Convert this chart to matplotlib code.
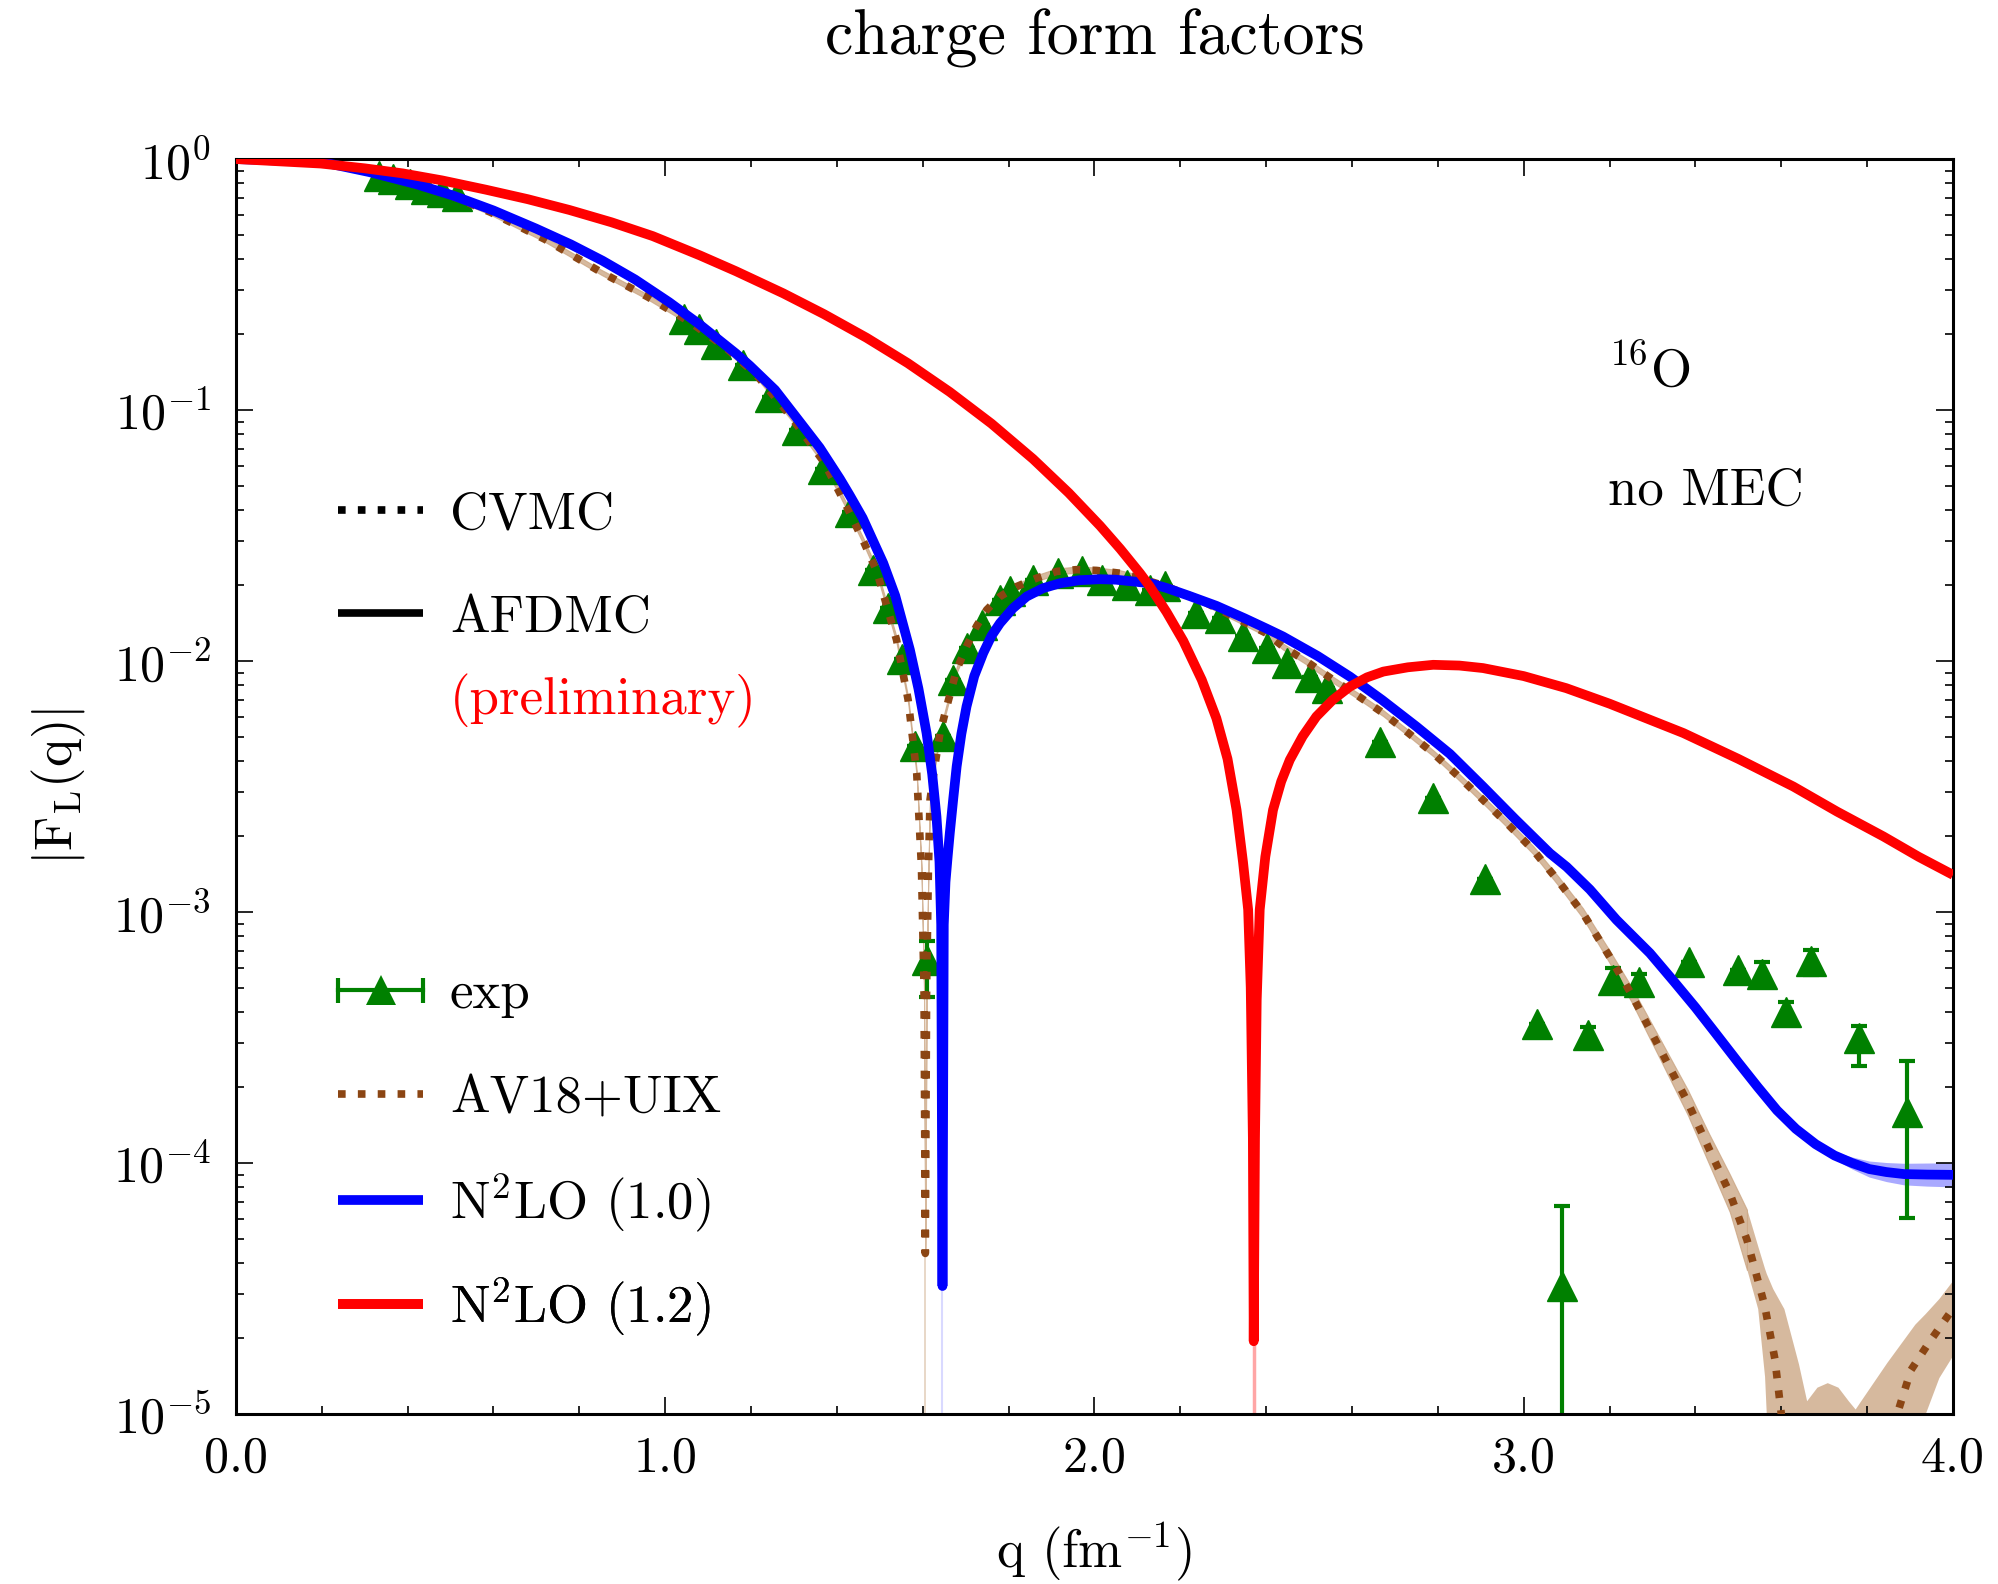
import numpy as np
import matplotlib
matplotlib.use('Agg')
import matplotlib.pyplot as plt
from matplotlib.lines import Line2D
from matplotlib.legend_handler import HandlerLine2D, HandlerTuple
from matplotlib.ticker import LogLocator, MultipleLocator, FormatStrFormatter, NullFormatter

plt.rcParams['font.family'] = 'serif'
plt.rcParams['font.serif'] = ['cmr10']
plt.rcParams['mathtext.fontset'] = 'cm'
plt.rcParams['axes.unicode_minus'] = False
plt.rcParams['axes.formatter.use_mathtext'] = True

# ---- values (log10 |F_L|) ----
# AV18+UIX (CVMC)
cvmc_q = [0.0, 0.2, 0.35, 0.5, 0.593, 0.72, 0.852, 0.96, 1.059, 1.14, 1.214, 1.29, 1.37, 1.423,
          1.463, 1.493, 1.525, 1.539, 1.566, 1.586, 1.597, 1.603, 1.606, 1.609, 1.613, 1.617,
          1.628, 1.640, 1.656, 1.679, 1.702, 1.725, 1.749, 1.78, 1.819, 1.865, 1.912, 1.958,
          2.005, 2.059, 2.106, 2.168, 2.246, 2.323, 2.40, 2.439, 2.497, 2.556, 2.615, 2.673,
          2.73, 2.789, 2.845, 2.905, 2.963, 3.022, 3.08, 3.138, 3.2, 3.252, 3.317, 3.382,
          3.431, 3.48, 3.52, 3.561, 3.585, 3.60, 3.615, 3.86, 3.87, 3.902, 3.943, 4.0]
cvmc_log = [0.0, -0.013, -0.065, -0.145, -0.212, -0.32, -0.452, -0.55, -0.651, -0.75, -0.863,
            -1.02, -1.208, -1.385, -1.527, -1.643, -1.833, -1.916, -2.155, -2.447, -2.82, -3.3,
            -4.36, -3.3, -2.85, -2.553, -2.42, -2.288, -2.181, -2.035, -1.942, -1.862, -1.796,
            -1.743, -1.703, -1.67, -1.643, -1.636, -1.639, -1.65, -1.67, -1.703, -1.756, -1.823,
            -1.889, -1.942, -2.005, -2.075, -2.14, -2.208, -2.285, -2.367, -2.455, -2.553,
            -2.65, -2.753, -2.875, -3.005, -3.178, -3.331, -3.544, -3.758, -3.941, -4.12,
            -4.306, -4.566, -4.78, -5.0, -5.6, -5.6, -5.0, -4.825, -4.718, -4.58]
# half width of the CVMC band (decades), used up to q = 3.52
cvmc_hw = [0.0, 0.01, 0.01, 0.01, 0.01, 0.01, 0.01, 0.01, 0.01, 0.012, 0.012, 0.012, 0.012,
           0.012, 0.012, 0.012, 0.012, 0.012, 0.012, 0.012, 0.012, 0.012, 0.012, 0.012, 0.012,
           0.012, 0.012, 0.012, 0.012, 0.012, 0.012, 0.012, 0.012, 0.012, 0.012, 0.012, 0.012,
           0.012, 0.012, 0.012, 0.012, 0.012, 0.012, 0.012, 0.012, 0.012, 0.012, 0.012, 0.012,
           0.012, 0.012, 0.012, 0.013, 0.014, 0.015, 0.016, 0.018, 0.02, 0.025, 0.03, 0.04,
           0.05, 0.06, 0.075, 0.12, 0, 0, 0, 0, 0, 0, 0, 0, 0]
# CVMC band beyond q = 3.52
cvmc_tail_q = [3.52, 3.545, 3.561, 3.565, 3.58, 3.606, 3.64, 3.659, 3.683, 3.707, 3.732, 3.756,
               3.772, 3.785, 3.846, 3.911, 3.935, 3.967, 4.0]
cvmc_tail_hi = [-4.186, -4.33, -4.42, -4.44, -4.50, -4.58, -4.80, -4.947, -4.893, -4.875,
                -4.893, -4.947, -4.98, -4.947, -4.794, -4.642, -4.60, -4.54, -4.466]
cvmc_tail_lo = [-4.426, -4.58, -4.85, -5.0, -6.0, -6.0, -6.0, -6.0, -6.0, -6.0, -6.0, -6.0,
                -6.0, -6.0, -6.0, -6.0, -5.0, -4.855, -4.764]

# N2LO (1.0) AFDMC
n2lo10_q = [0.0, 0.2, 0.311, 0.42, 0.505, 0.6, 0.699, 0.78, 0.854, 0.93, 1.009, 1.081, 1.165,
            1.197, 1.256, 1.314, 1.36, 1.407, 1.43, 1.46, 1.508, 1.536, 1.57, 1.59, 1.609, 1.622,
            1.632, 1.639, 1.643, 1.646, 1.649, 1.653, 1.658, 1.663, 1.671, 1.679, 1.69, 1.702,
            1.72, 1.741, 1.76, 1.78, 1.81, 1.842, 1.88, 1.92, 1.965, 2.013, 2.05, 2.09, 2.129,
            2.168, 2.22, 2.284, 2.35, 2.40, 2.439, 2.52, 2.595, 2.67, 2.75, 2.828, 2.905, 2.98,
            3.061, 3.10, 3.154, 3.216, 3.294, 3.35, 3.40, 3.447, 3.50, 3.545, 3.59, 3.634,
            3.68, 3.724, 3.765, 3.805, 3.845, 3.886, 3.94, 4.0]
n2lo10_log = [0.0, -0.012, -0.052, -0.10, -0.145, -0.205, -0.277, -0.34, -0.405, -0.48, -0.57,
              -0.66, -0.775, -0.823, -0.92, -1.048, -1.15, -1.274, -1.34, -1.43, -1.61, -1.74,
              -1.955, -2.11, -2.288, -2.45, -2.62, -2.80, -3.05, -4.49, -3.05, -2.88, -2.78,
              -2.686, -2.55, -2.42, -2.29, -2.181, -2.06, -1.968, -1.90, -1.849, -1.79, -1.743,
              -1.71, -1.69, -1.678, -1.674, -1.676, -1.683, -1.69, -1.709, -1.74, -1.78, -1.83,
              -1.87, -1.902, -1.98, -2.062, -2.155, -2.261, -2.37, -2.50, -2.63, -2.766, -2.82,
              -2.91, -3.031, -3.164, -3.277, -3.38, -3.483, -3.60, -3.697, -3.79, -3.864,
              -3.925, -3.97, -4.0, -4.024, -4.036, -4.044, -4.046, -4.047]
n2lo10_hw = [0.0] * 76 + [0.008, 0.015, 0.024, 0.032, 0.038, 0.043, 0.046, 0.048]

# N2LO (1.2) AFDMC
n2lo12_q = [0.0, 0.198, 0.3, 0.388, 0.48, 0.582, 0.68, 0.777, 0.875, 0.971, 1.081, 1.165, 1.275,
            1.37, 1.469, 1.565, 1.663, 1.76, 1.857, 1.94, 2.013, 2.06, 2.106, 2.129, 2.168,
            2.207, 2.25, 2.284, 2.31, 2.331, 2.346, 2.358, 2.364, 2.369, 2.371, 2.374, 2.378,
            2.385, 2.398, 2.416, 2.435, 2.455, 2.485, 2.517, 2.555, 2.595, 2.635, 2.673, 2.73,
            2.789, 2.85, 2.905, 3.0, 3.099, 3.2, 3.294, 3.372, 3.5, 3.628, 3.73, 3.838, 3.92,
            4.0]
n2lo12_log = [0.0, -0.018, -0.037, -0.057, -0.085, -0.122, -0.16, -0.203, -0.252, -0.307,
              -0.384, -0.447, -0.535, -0.618, -0.712, -0.813, -0.928, -1.054, -1.195, -1.33,
              -1.461, -1.553, -1.65, -1.703, -1.805, -1.92, -2.075, -2.228, -2.39, -2.593, -2.80,
              -2.99, -3.3, -3.9, -4.71, -3.9, -3.35, -2.99, -2.78, -2.593, -2.48, -2.394, -2.30,
              -2.221, -2.155, -2.102, -2.065, -2.042, -2.025, -2.015, -2.018, -2.028, -2.06,
              -2.108, -2.17, -2.234, -2.287, -2.39, -2.5, -2.6, -2.699, -2.78, -2.852]

# experiment
exp_q = [0.334, 0.367, 0.406, 0.442, 0.479, 0.515, 1.044, 1.079, 1.118, 1.182, 1.244, 1.306,
         1.368, 1.431, 1.485, 1.52, 1.551, 1.582, 1.61, 1.648, 1.671, 1.702, 1.737, 1.78, 1.803,
         1.857, 1.916, 1.97, 2.017, 2.075, 2.129, 2.164, 2.237, 2.292, 2.347, 2.401, 2.448,
         2.502, 2.541, 2.665, 2.788, 2.91, 3.031, 3.089, 3.149, 3.207, 3.268, 3.385, 3.498,
         3.556, 3.611, 3.669, 3.782, 3.892]
exp_log = [-0.066, -0.080, -0.100, -0.119, -0.133, -0.146, -0.636, -0.676, -0.736, -0.822,
           -0.948, -1.081, -1.234, -1.407, -1.636, -1.79, -1.99, -2.34, -3.19, -2.30, -2.075,
           -1.949, -1.855, -1.756, -1.72, -1.677, -1.65, -1.643, -1.677, -1.696, -1.716,
           -1.703, -1.809, -1.829, -1.902, -1.949, -2.008, -2.062, -2.108, -2.321, -2.547,
           -2.869, -3.445, -4.49, -3.49, -3.27, -3.277, -3.20, -3.232, -3.247, -3.40, -3.194,
           -3.50, -3.796]
exp_err_dn = [0.0] * 18 + [0.15] + [0.0] * 24 + [1.0, 0.03, 0.053, 0.03, 0.0, 0.0, 0.053,
                                                 0.05, 0.056, 0.113, 0.422]
exp_err_up = [0.0] * 18 + [0.075] + [0.0] * 24 + [0.32, 0.03, 0.046, 0.03, 0.0, 0.0, 0.047,
                                                  0.04, 0.044, 0.047, 0.203]

green = '#008000'
brown = '#8b4513'
tan = '#c9a27e'
dots = (0, (1, 1.6))
FS = 38

fig = plt.figure(figsize=(19.99, 15.84), dpi=100)
ax = fig.add_axes([0.118, 0.1073, 0.859, 0.7923])

# CVMC band + curve
q = np.array(cvmc_q)
lg = np.array(cvmc_log)
hw = np.array(cvmc_hw)
m = q <= 3.52
ax.fill_between(q[m], 10 ** (lg[m] - hw[m]), 10 ** (lg[m] + hw[m]), color=tan, alpha=0.75,
                lw=0.8, zorder=1)
ax.fill_between(cvmc_tail_q, 10 ** np.array(cvmc_tail_lo), 10 ** np.array(cvmc_tail_hi),
                color=tan, alpha=0.75, lw=0, zorder=1)
ax.plot(cvmc_q, 10 ** lg, color=brown, lw=5.5, ls=dots, dash_capstyle='butt', zorder=3)

# N2LO (1.0) band + curve
q10 = np.array(n2lo10_q)
lg10 = np.array(n2lo10_log)
hw10 = np.array(n2lo10_hw)
ax.fill_between(q10, 10 ** (lg10 - hw10), 10 ** (lg10 + hw10), color='#7070ff', alpha=0.6,
                lw=0, zorder=1)
ax.plot(q10, 10 ** lg10, color='#0000ff', lw=7, solid_capstyle='butt', zorder=4)

# N2LO (1.2) curve
q12 = np.array(n2lo12_q)
lg12 = np.array(n2lo12_log)
ax.plot(q12, 10 ** lg12, color='#ff0000', lw=7, solid_capstyle='butt', zorder=5)

# faint band tails down to the axis at the zeros
for qq, ll, col, a, w in [(q, lg, tan, 0.5, 1.2), (q10, lg10, '#0000ff', 0.15, 1.5),
                          (q12, lg12, '#ff0000', 0.35, 2.5)]:
    sel = qq < 3.0
    i = np.argmin(ll[sel])
    ax.vlines(qq[sel][i], 1e-6, 10 ** ll[sel][i], color=col, alpha=a, lw=w, zorder=1)

# experiment
el = np.array(exp_log)
ey = 10 ** el
elo = ey - 10 ** (el - np.array(exp_err_dn))
ehi = 10 ** (el + np.array(exp_err_up)) - ey
ax.errorbar(exp_q, ey, yerr=[elo, ehi], fmt='^', color=green, ms=22, mec=green,
            elinewidth=3, capsize=6, capthick=3, zorder=2)

ax.set_yscale('log')
ax.set_xlim(0, 4)
ax.set_ylim(1e-5, 1)
ax.xaxis.set_major_locator(MultipleLocator(1.0))
ax.xaxis.set_minor_locator(MultipleLocator(0.2))
ax.xaxis.set_major_formatter(FormatStrFormatter('%.1f'))
ax.yaxis.set_major_locator(LogLocator(base=10, numticks=10))
ax.yaxis.set_minor_locator(LogLocator(base=10, subs=np.arange(2, 10), numticks=10))
ax.yaxis.set_minor_formatter(NullFormatter())
ax.tick_params(which='both', direction='in', top=True, right=True, width=1.2)
ax.tick_params(which='major', length=12, labelsize=36)
ax.tick_params(which='minor', length=6)
ax.tick_params(axis='x', which='major', pad=16)
ax.tick_params(axis='y', which='major', pad=18)
for s in ax.spines.values():
    s.set_linewidth(2.2)

ax.set_xlabel(r'q (fm$^{-1}$)', fontsize=FS, labelpad=28)
ax.set_ylabel(r'$|\mathrm{F_L(q)}|$', fontsize=FS, labelpad=18)
fig.text(0.5475, 0.976, 'charge form factors', fontsize=46, ha='center', va='center')

ax.text(0.799, 0.832, r'$^{16}$O', transform=ax.transAxes, fontsize=FS, va='center')
ax.text(0.799, 0.735, 'no MEC', transform=ax.transAxes, fontsize=FS, va='center')
ax.text(0.1245, 0.568, '(preliminary)', transform=ax.transAxes, fontsize=FS, va='center',
        color='#ff0000')

# legend entries, one row each
h_bar = Line2D([], [], color=green, lw=3, marker='|', ms=18, mew=3)
h_tri = Line2D([], [], color=green, ls='none', marker='^', ms=22, mew=0)
hmap = {h_bar: HandlerLine2D(numpoints=2, marker_pad=0),
        h_tri: HandlerLine2D(numpoints=1),
        tuple: HandlerTuple(ndivide=1, pad=0)}
rows = [
    (Line2D([], [], color='black', lw=5.5, ls=dots, dash_capstyle='butt'), 'CVMC', 0.7163),
    (Line2D([], [], color='black', lw=5.5, solid_capstyle='butt'), 'AFDMC', 0.634),
    ((h_bar, h_tri), 'exp', 0.334),
    (Line2D([], [], color=brown, lw=5.5, ls=dots, dash_capstyle='butt'), 'AV18+UIX', 0.251),
    (Line2D([], [], color='#0000ff', lw=7, solid_capstyle='butt'), r'N$^2$LO (1.0)', 0.1684),
    (Line2D([], [], color='#ff0000', lw=7, solid_capstyle='butt'), r'N$^2$LO (1.2)', 0.0853),
]
for h, lab, yy in rows:
    lg_ = ax.legend([h], [lab], loc='center left', bbox_to_anchor=(0.0594, yy), frameon=False,
                    fontsize=FS, handlelength=1.62, handletextpad=0.5, borderpad=0,
                    borderaxespad=0, numpoints=1, handler_map=hmap)
    ax.add_artist(lg_)

fig.savefig('out.png', dpi=100)
